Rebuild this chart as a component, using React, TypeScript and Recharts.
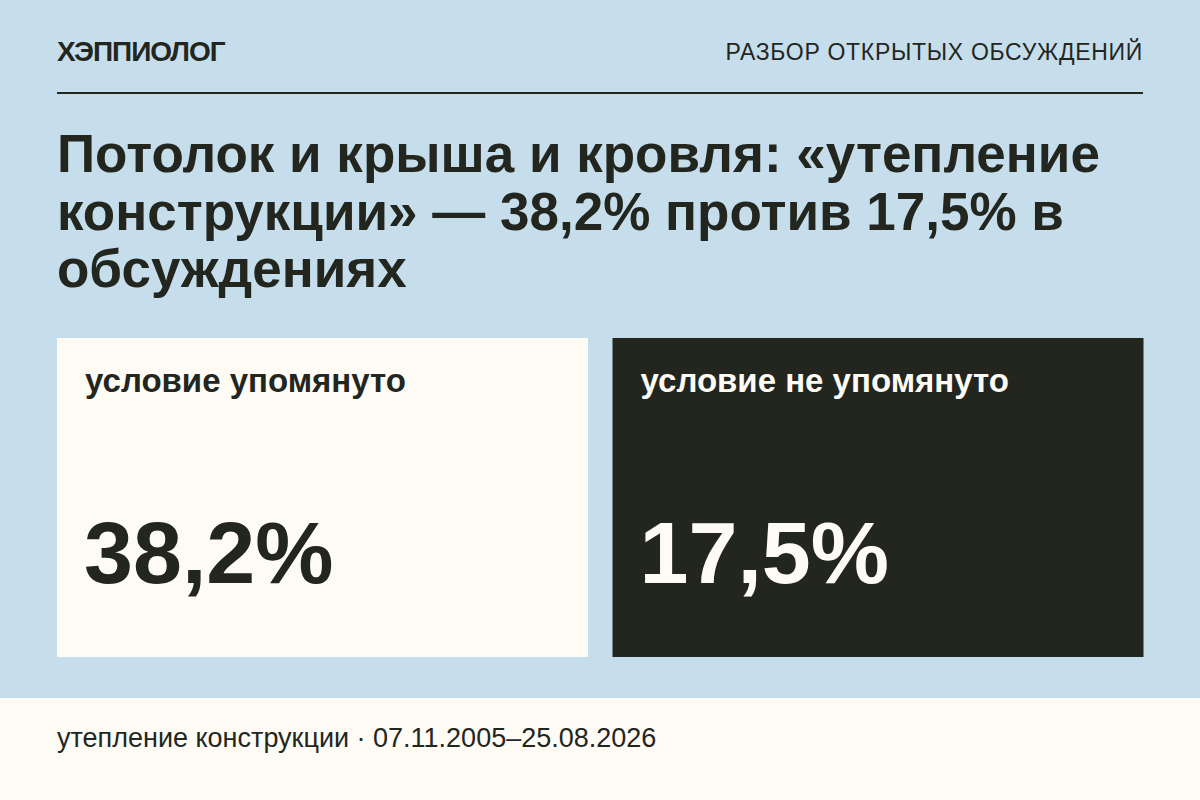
import React from 'react'
import { BarChart, Bar, XAxis, YAxis } from 'recharts'

// card data
const categories = ['условие упомянуто', 'условие не упомянуто']
const shares = [38.2, 17.5]
const shareLabels = ['38,2%', '17,5%']

const titleLines = [
  'Потолок и крыша и кровля: «утепление',
  'конструкции» — 38,2% против 17,5% в',
  'обсуждениях',
]
const brand = 'ХЭППИОЛОГ'
const section = 'РАЗБОР ОТКРЫТЫХ ОБСУЖДЕНИЙ'
const footnote = 'утепление конструкции · 07.11.2005–25.08.2026'

const data = categories.map((name, i) => ({ name, share: shares[i], label: shareLabels[i] }))

const BG = '#c6deec'
const CREAM = '#fdfbf4'
const INK = '#23261f'
const FONT = '"Liberation Sans", Arial, Helvetica, sans-serif'

const cardFill = [CREAM, INK]
const cardText = [INK, '#fdfbf4']

// card drawn as the bar's full-height background slot
function Card(props: any) {
  const { x, y, width, height, index } = props
  return (
    <g>
      <rect x={x} y={y} width={width} height={height} fill={cardFill[index]} />
      <text x={x + 28} y={y + 54} fill={cardText[index]} fontFamily={FONT} fontWeight={700} fontSize={33}>
        {categories[index]}
      </text>
      <text x={x + 27} y={y + 245} fill={cardText[index]} fontFamily={FONT} fontWeight={700} fontSize={88}>
        {shareLabels[index]}
      </text>
    </g>
  )
}

export default function App() {
  return (
    <div style={{ position: 'absolute', left: 0, top: 0, width: 1200, height: 800, background: BG, fontFamily: FONT, color: INK, overflow: 'hidden' }}>
      <div style={{ position: 'absolute', left: 0, top: 698, width: 1200, height: 102, background: CREAM }} />
      <div style={{ position: 'absolute', left: 57, top: 37, fontSize: 28, fontWeight: 700, lineHeight: '30px', letterSpacing: -1 }}>{brand}</div>
      <div style={{ position: 'absolute', right: 57, top: 38, fontSize: 23, lineHeight: '28px', letterSpacing: 0.7 }}>{section}</div>
      <div style={{ position: 'absolute', left: 57, top: 92, width: 1086, height: 2, background: INK }} />
      <div style={{ position: 'absolute', left: 57, top: 125, fontSize: 53, fontWeight: 700, lineHeight: '57.5px', whiteSpace: 'nowrap' }}>
        {titleLines.map((l) => (
          <div key={l}>{l}</div>
        ))}
      </div>
      <div style={{ position: 'absolute', left: 0, top: 0 }}>
        <BarChart
          width={1200}
          height={800}
          data={data}
          margin={{ top: 338, right: 44.5, bottom: 143, left: 44.5 }}
          barCategoryGap={12.5}
        >
          <XAxis dataKey="name" hide />
          <YAxis domain={[0, 100]} hide />
          <Bar dataKey="share" fill="transparent" background={Card} isAnimationActive={false} />
        </BarChart>
      </div>
      <div style={{ position: 'absolute', left: 57, top: 722, fontSize: 27, lineHeight: '32px' }}>{footnote}</div>
    </div>
  )
}
